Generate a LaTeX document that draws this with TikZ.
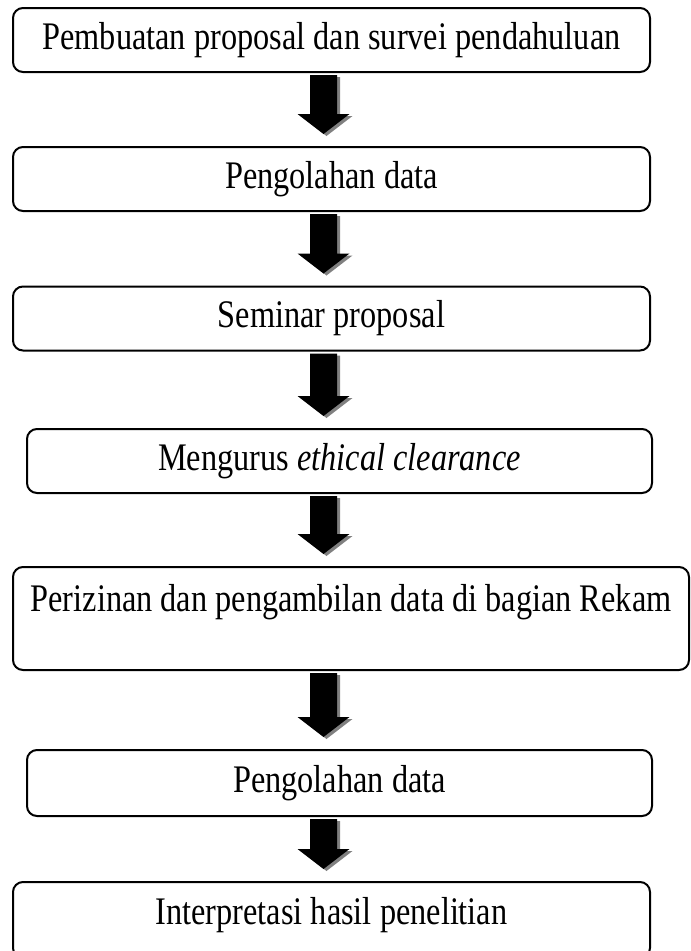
\documentclass[tikz,border=0pt]{standalone}
\usepackage{fontspec}
\setmainfont{Liberation Serif}
\usepackage{tikz}
\usetikzlibrary{calc}

\tikzset{
  stage/.style={draw,line width=1.5pt,rounded corners=7.5pt,inner sep=0pt,
    minimum height=48pt,font=\fontsize{24}{29}\selectfont},
}

% the printed text is set taller than it is wide
\newcommand{\tall}[1]{\scalebox{1.01}[1.22]{#1}}

% fat arrow with a gray drop shadow, from one stage down to the next
\newcommand{\fatarrow}[2]{%
  \foreach \dx/\dy/\col in {3/2/gray,0/0/black}{
    \fill[\col] ($(#1.south -| spine)+(-13.5+\dx,2+\dy)$) -- ($(#1.south -| spine)+(13.5+\dx,2+\dy)$)
      -- ($(#2.north -| spine)+(13.5+\dx,-32+\dy)$) -- ($(#2.north -| spine)+(26+\dx,-32+\dy)$)
      -- ($(#2.north -| spine)+(\dx,-12+\dy)$) -- ($(#2.north -| spine)+(-26+\dx,-32+\dy)$)
      -- ($(#2.north -| spine)+(-13.5+\dx,-32+\dy)$) -- cycle;
  }%
}

\begin{document}
\begin{tikzpicture}[x=0.75pt,y=-0.75pt]
    \useasboundingbox (0,0) rectangle (691,951);
    \coordinate (spine) at (323.5,0);
    \node[stage,minimum width=477.75pt] (s1) at (331.5,40) {\tall{Pembuatan proposal dan survei pendahuluan}};
    \node[stage,minimum width=477.75pt] (s2) at (331.5,179) {\tall{Pengolahan data}};
    \node[stage,minimum width=477.75pt] (s3) at (331.5,318.5) {\tall{Seminar proposal}};
    \node[stage,minimum width=468.75pt] (s4) at (339.5,461) {\tall{Mengurus \textit{ethical clearance}}};
    \node[stage,minimum width=507pt,minimum height=77.25pt,text depth=31pt] (s5) at (351,618.5) {\tall{Perizinan dan pengambilan data di bagian Rekam}};
    \node[stage,minimum width=468.75pt,minimum height=49.5pt] (s6) at (339.5,783) {\tall{Pengolahan data}};
    \node[stage,minimum width=477.75pt,minimum height=57pt,text depth=13pt] (s7) at (331.5,920) {\tall{Interpretasi hasil penelitian}};
    \fatarrow{s1}{s2}
    \fatarrow{s2}{s3}
    \fatarrow{s3}{s4}
    \fatarrow{s4}{s5}
    \fatarrow{s5}{s6}
    \fatarrow{s6}{s7}
\end{tikzpicture}
\end{document}
